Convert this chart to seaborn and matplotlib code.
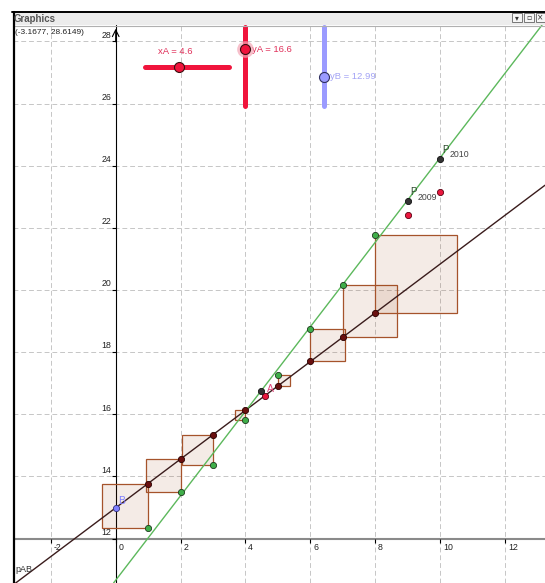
import pandas as pd
import matplotlib.pyplot as plt
import seaborn as sns
from matplotlib.patches import Rectangle
from matplotlib.lines import Line2D

# --- values ---
slider_names = ['xA', 'yA', 'yB']
slider_values = [4.6, 16.6, 12.99]
slider_max = [11.3, 23.1, 35.1]          # slider ranges start at 0

xs = [1, 2, 3, 4, 5, 6, 7, 8]
ys_obs = [12.35, 13.49, 14.38, 15.82, 17.27, 18.76, 20.15, 21.78]
ys_fit = [13.77, 14.56, 15.34, 16.13, 16.91, 17.70, 18.48, 19.27]

p_years = ['2009', '2010']
p_x = [9, 10]
p_y = [22.85, 24.21]
red_x = [9, 10]
red_y = [22.42, 23.17]
mid_x = [4.48]
mid_y = [16.76]

green_intercept = 10.66
green_slope = 1.36

x_ticks = [-2, 0, 2, 4, 6, 8, 10, 12]
y_ticks = [12, 14, 16, 18, 20, 22, 24, 26, 28]

xA, yA, yB = slider_values

sns.set_theme(style='white')
plt.rcParams['font.family'] = ['Liberation Sans', 'DejaVu Sans']

W, H = 545, 583
fig = plt.figure(figsize=(W / 100, H / 100), dpi=100)
ax = fig.add_axes([13 / W, 0, 532 / W, 558 / H])
ax.set_xlim(-3.165, 13.23)
ax.set_ylim(10.57, 28.53)
for s in ax.spines.values():
    s.set_visible(False)
ax.set_xticks(x_ticks)
ax.set_yticks(y_ticks)
ax.tick_params(length=0, labelbottom=False, labelleft=False)
ax.grid(True, color='#c6c6c6', lw=0.7, ls=(0, (5, 3)))
ax.set_axisbelow(True)

# axes
ax.axhline(12, color='#8a8a8a', lw=1.5, zorder=1)
ax.axvline(0, color='black', lw=0.8, zorder=1)
ax.annotate('', xy=(0, 28.5), xytext=(0, 27.9),
            arrowprops=dict(arrowstyle='->', lw=0.8, color='black'))
ax.plot(x_ticks, [12] * len(x_ticks), ls='none', marker=3, ms=3, mew=0.8, color='black')
ax.plot([0] * len(y_ticks), y_ticks, ls='none', marker=0, ms=3, mew=0.8, color='black')
for x in x_ticks:
    ax.annotate(str(x), (x, 12), xytext=(2, -3), textcoords='offset points',
                ha='left', va='top', fontsize=6.3, color='#222')
for y in y_ticks:
    ax.annotate(str(y), (0, y), xytext=(-3, 1.2), textcoords='offset points',
                ha='right', va='bottom', fontsize=6.3, color='#222')

# lines
ax.axline((0, yB), (xA, yA), color='#3a1c1c', lw=1.0, zorder=3)
ax.axline((0, green_intercept), slope=green_slope, color='#5cb85c', lw=1.0, zorder=3)

# residual squares
for x, o, f in zip(xs, ys_obs, ys_fit):
    r = o - f
    if r < 0:
        corner = (x + r, o)
    else:
        corner = (x, f)
    ax.add_patch(Rectangle(corner, abs(r), abs(r), facecolor=(0.6, 0.25, 0.05, 0.1),
                           edgecolor='#a5532b', lw=0.9, zorder=2))

# points
pt = dict(s=20, linewidth=0.6, ax=ax, zorder=6, legend=False)
sns.scatterplot(data=pd.DataFrame({'x': xs, 'y': ys_obs}), x='x', y='y',
                color='#3fae49', edgecolor='#1e3a1e', **pt)
sns.scatterplot(data=pd.DataFrame({'x': xs, 'y': ys_fit}), x='x', y='y',
                color='#6a1010', edgecolor='#2a0000', **pt)
sns.scatterplot(data=pd.DataFrame({'x': red_x + [xA], 'y': red_y + [yA]}), x='x', y='y',
                color='#ea173e', edgecolor='#5a0010', **pt)
sns.scatterplot(data=pd.DataFrame({'x': p_x + mid_x, 'y': p_y + mid_y}), x='x', y='y',
                color='#333333', edgecolor='#111111', **pt)
sns.scatterplot(data=pd.DataFrame({'x': [0], 'y': [yB]}), x='x', y='y',
                color='#8080ff', edgecolor='#303080', **pt)
ax.set_xlabel('')
ax.set_ylabel('')

ax.text(4.76, 16.82, 'A', color='#e0457b', fontsize=7.5, ha='center', va='center', zorder=7)
ax.text(0.17, 13.22, 'B', color='#8080ff', fontsize=7.5, ha='center', va='center', zorder=7)
ax.text(-3.08, 11.02, 'pAB', color='#333', fontsize=6.5, ha='left', va='center')
for x, y, yr in zip(p_x, p_y, p_years):
    ax.annotate('P', (x, y), xytext=(4.1, 6.7), textcoords='offset points',
                ha='center', va='center', fontsize=7, color='#2e4a2e')
    ax.annotate(yr, (x, y), xytext=(13.9, 3.1), textcoords='offset points',
                ha='center', va='center', fontsize=6.3, color='#444')


# sliders (screen positions, axes fraction)
def fx(px):
    return (px - 13) / 532


def fy(py):
    return (583 - py) / 558


tr = dict(transform=ax.transAxes, clip_on=False)
# xA horizontal slider
t = xA / slider_max[0]
x0, x1, yy = fx(145), fx(229.3), fy(67.3)
ax.plot([x0, x1], [yy, yy], color='#f0143c', lw=3.6, solid_capstyle='round', zorder=8, **tr)
ax.plot([x0 + t * (x1 - x0)], [yy], marker='o', ms=7.2, mfc='#f0143c', mec='#3a1010',
        mew=0.8, zorder=9, **tr)
ax.text(fx(175), fy(51), f'xA = {xA}', color='#e0305a', fontsize=6.8,
        ha='center', va='center', **tr)

# yA vertical slider
t = yA / slider_max[1]
xx, y0, y1 = fx(245.3), fy(106), fy(26.7)
ax.plot([xx, xx], [y0, y1], color='#f0143c', lw=3.6, solid_capstyle='round', zorder=8, **tr)
ky = y0 + t * (y1 - y0)
ax.plot([xx], [ky], marker='o', ms=12, mfc='#f4a6b6', mec='none', alpha=0.7, zorder=9, **tr)
ax.plot([xx], [ky], marker='o', ms=7.2, mfc='#f0143c', mec='#3a1010', mew=0.8, zorder=9, **tr)
ax.text(fx(251.5), ky, f'yA = {yA}', color='#e0305a', fontsize=6.8,
        ha='left', va='center', **tr)

# yB vertical slider
t = yB / slider_max[2]
xx = fx(324.3)
ax.plot([xx, xx], [y0, y1], color='#9b9bff', lw=3.6, solid_capstyle='round', zorder=8, **tr)
ky = y0 + t * (y1 - y0)
ax.plot([xx], [ky], marker='o', ms=7.2, mfc='#9b9bff', mec='#303060', mew=0.8, zorder=9, **tr)
ax.text(fx(330.5), ky, f'yB = {yB}', color='#a3a3f5', fontsize=6.8,
        ha='left', va='center', **tr)

ax.text(fx(15), fy(32), '(-3.1677, 28.6149)', fontsize=6, color='#222',
        ha='left', va='center', **tr)

# window chrome: title bar and frame
fig.add_artist(Rectangle((13 / W, 1 - 25 / H), 532 / W, 13 / H, transform=fig.transFigure,
                         facecolor='#ececec', edgecolor='none'))
fig.add_artist(Line2D([13 / W, 1], [1 - 25.5 / H] * 2, transform=fig.transFigure,
                      color='#b0b0b0', lw=0.8))
fig.add_artist(Line2D([12 / W, 1], [1 - 12 / H] * 2, transform=fig.transFigure,
                      color='black', lw=1.4))
fig.add_artist(Line2D([13.5 / W] * 2, [0, 1 - 12 / H], transform=fig.transFigure,
                      color='black', lw=1.6))
fig.text(14 / W, 1 - 18.5 / H, 'Graphics', fontsize=7, fontweight='bold', color='#555',
         ha='left', va='center')
for bx, glyph in zip([512, 523.5, 535.5], ['▾', '▫', '×']):
    fig.add_artist(Rectangle((bx / W, 1 - 22 / H), 10 / W, 9 / H, transform=fig.transFigure,
                             facecolor='#f6f6f6', edgecolor='#777', lw=0.7))
    fig.text((bx + 5) / W, 1 - 17.5 / H, glyph, fontsize=5.5, color='#333',
             ha='center', va='center', family=['DejaVu Sans'])

fig.savefig('out.png', dpi=100)
